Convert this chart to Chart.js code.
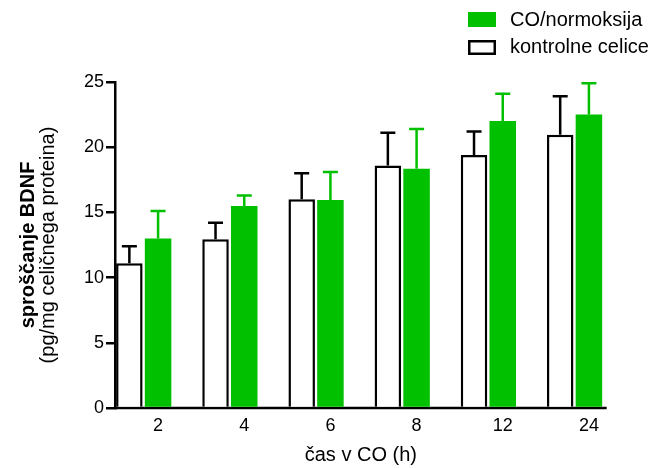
<!DOCTYPE html>
<html>
<head>
<meta charset="utf-8">
<script src="https://cdn.jsdelivr.net/npm/chart.js@4.4.1/dist/chart.umd.min.js"></script>
<style>
  html, body { margin: 0; padding: 0; background: #fff; }
  canvas { display: block; }
</style>
</head>
<body>
<canvas id="chart" width="654" height="468"></canvas>
<script>
// values (mean + upward SEM)
const hours = ["2", "4", "6", "8", "12", "24"];
const controlMean = [11.1, 12.95, 16.0, 18.6, 19.4, 20.95];
const controlSem  = [1.3, 1.25, 2.0, 2.5, 1.8, 2.95];
const coMean = [13.0, 15.5, 15.95, 18.35, 22.0, 22.5];
const coSem  = [2.1, 0.8, 2.15, 3.05, 2.1, 2.4];
const yTicks = [0, 5, 10, 15, 20, 25];

const GREEN = "#00c000";
const FONT = "'Liberation Sans', Arial, Helvetica, sans-serif";

// x axis baseline, drawn under the bars and stopping just after the last bar
const baseline = {
  id: "baseline",
  beforeDatasetsDraw(chart) {
    const ctx = chart.ctx, y0 = chart.scales.y.getPixelForValue(0);
    const last = chart.getDatasetMeta(1).data[hours.length - 1];
    ctx.save();
    ctx.strokeStyle = "#000";
    ctx.lineWidth = 2.5;
    ctx.beginPath();
    ctx.moveTo(chart.chartArea.left, y0);
    ctx.lineTo(last.x + last.width / 2 + 4.5, y0);
    ctx.stroke();
    ctx.restore();
  },
};

const errorBars = {
  id: "errorBars",
  afterDatasetsDraw(chart) {
    const ctx = chart.ctx, y = chart.scales.y;
    [[0, controlSem, "#000"], [1, coSem, GREEN]].forEach(([i, sem, col]) => {
      const ds = chart.data.datasets[i];
      chart.getDatasetMeta(i).data.forEach((bar, k) => {
        const top = y.getPixelForValue(ds.data[k] + sem[k]);
        ctx.save();
        ctx.strokeStyle = col;
        ctx.lineWidth = 2.5;
        ctx.beginPath();
        ctx.moveTo(bar.x, bar.y);
        ctx.lineTo(bar.x, top);
        ctx.moveTo(bar.x - 7.5, top);
        ctx.lineTo(bar.x + 7.5, top);
        ctx.stroke();
        ctx.restore();
      });
    });
  },
};

// legend (CO first) and the two axis titles
const labelsPlugin = {
  id: "labels",
  afterDraw(chart) {
    const ctx = chart.ctx, a = chart.chartArea;
    ctx.save();
    ctx.fillStyle = "#000";
    ctx.textBaseline = "middle";
    ctx.font = "20px " + FONT;

    const co = chart.data.datasets[1], ctl = chart.data.datasets[0];
    ctx.fillStyle = GREEN;
    ctx.fillRect(468, 12, 28, 15);
    ctx.strokeStyle = "#000";
    ctx.lineWidth = 2.5;
    ctx.strokeRect(469.25, 41.25, 25.5, 12.5);
    ctx.fillStyle = "#000";
    ctx.textAlign = "left";
    ctx.fillText(co.label, 510, 20);
    ctx.fillText(ctl.label, 510, 47);

    // x title centred under the drawn axis
    const last = chart.getDatasetMeta(1).data[hours.length - 1];
    const xEnd = last.x + last.width / 2 + 4.5;
    ctx.textAlign = "center";
    ctx.fillText("čas v CO (h)", (a.left + xEnd) / 2, 455);

    // y title, two lines
    const yc = (a.top + a.bottom) / 2;
    ctx.translate(0, yc);
    ctx.rotate(-Math.PI / 2);
    ctx.font = "bold 20px " + FONT;
    ctx.fillText("sproščanje BDNF", 0, 28);
    ctx.font = "20px " + FONT;
    ctx.fillText("(pg/mg celičnega proteina)", 0, 48);
    ctx.restore();
  },
};

new Chart(document.getElementById("chart"), {
  type: "bar",
  data: {
    labels: hours,
    datasets: [
      { label: "kontrolne celice", data: controlMean, backgroundColor: "#fff",
        borderColor: "#000", borderWidth: 2.5 },
      { label: "CO/normoksija", data: coMean, backgroundColor: GREEN, borderWidth: 0 },
      { label: "", data: hours.map(() => null) },   // empty slot, keeps the pair left in each group
    ],
  },
  options: {
    responsive: false,
    animation: false,
    events: [],
    layout: { padding: { top: 82, right: 22, bottom: 0, left: 0 } },
    datasets: { bar: { categoryPercentage: 1, barPercentage: 0.923 } },
    plugins: { legend: { display: false }, tooltip: { enabled: false } },
    scales: {
      x: {
        grid: { display: false, drawTicks: false },
        border: { display: false },
        ticks: { color: "#000", font: { family: FONT, size: 18 }, padding: 7, maxRotation: 0 },
        afterFit(s) { s.height = 60; },
      },
      y: {
        min: 0, max: 25,
        afterBuildTicks(s) { s.ticks = yTicks.map(v => ({ value: v })); },
        grid: { drawOnChartArea: false, color: "#000", lineWidth: 2.5, tickLength: 9 },
        border: { display: true, color: "#000", width: 2.5 },
        ticks: { color: "#000", font: { family: FONT, size: 18 }, padding: 2 },
        afterFit(s) { s.width = 115; },
      },
    },
  },
  plugins: [baseline, errorBars, labelsPlugin],
});
</script>
</body>
</html>
